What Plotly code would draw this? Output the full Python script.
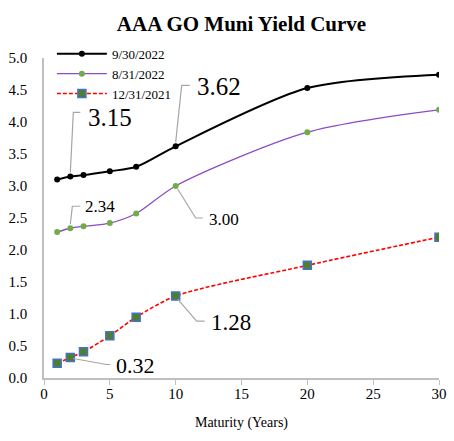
import plotly.graph_objects as go

maturity = [1, 2, 3, 5, 7, 10, 20, 30]
y_sep22 = [3.10, 3.15, 3.17, 3.23, 3.30, 3.62, 4.53, 4.74]
y_aug22 = [2.28, 2.34, 2.37, 2.42, 2.57, 3.00, 3.84, 4.19]
y_dec21 = [0.23, 0.32, 0.41, 0.66, 0.95, 1.28, 1.76, 2.20]
names = ["9/30/2022", "8/31/2022", "12/31/2021"]

FONT = "Liberation Serif"
W, H = 454, 441
L, R, T, B = 44, 15, 58, 63
XR = [0, 30]
YR = [0, 5]
PX_X = (W - L - R) / (XR[1] - XR[0])
PX_Y = (H - T - B) / (YR[1] - YR[0])

fig = go.Figure()
fig.add_trace(go.Scatter(x=maturity, y=y_sep22, name=names[0], mode="lines+markers",
                         line=dict(color="black", width=2, shape="spline", smoothing=0.8),
                         marker=dict(symbol="circle", size=6, color="black")))
fig.add_trace(go.Scatter(x=maturity, y=y_aug22, name=names[1], mode="lines+markers",
                         line=dict(color="#8B4CC4", width=1.3, shape="spline", smoothing=0.8),
                         marker=dict(symbol="circle", size=6, color="#70AD47")))
fig.add_trace(go.Scatter(x=maturity, y=y_dec21, name=names[2], mode="lines+markers",
                         line=dict(color="#FF0000", width=1.6, dash="4px,2px", shape="spline", smoothing=0.8),
                         marker=dict(symbol="square", size=8, color="#4E7F2E",
                                     line=dict(color="#4472C4", width=1.5))))

# callouts: (series, index, font size, path offsets in px (screen, y down), label xshift, yshift)
callouts = [
    (y_sep22, 1, 25, [(0, -4), (3, -64), (10, -64)], 16, 59),
    (y_sep22, 5, 25, [(0, -4), (6, -61), (14, -61)], 19, 60),
    (y_aug22, 1, 17, [(0, -4), (2, -22), (10, -22)], 13, 22),
    (y_aug22, 5, 17, [(2, 3), (20, 32), (27, 32)], 31, -33),
    (y_dec21, 5, 23, [(2, 3), (21, 25), (29, 25)], 33, -26),
    (y_dec21, 1, 22, [(3, 1), (36, 7), (40, 7)], 44, -8),
]
shapes = []
annotations = []
for series, i, fs, pts, xs, ys in callouts:
    x0, y0 = maturity[i], series[i]
    path = ""
    for k, (dx, dy) in enumerate(pts):
        px = x0 + dx / PX_X
        py = y0 - dy / PX_Y
        path += ("M" if k == 0 else " L") + f" {px:.4f},{py:.4f}"
    shapes.append(dict(type="path", path=path, xref="x", yref="y",
                       line=dict(color="#A6A6A6", width=1.2)))
    annotations.append(dict(x=x0, y=y0, xref="x", yref="y", text=f"{series[i]:.2f}",
                            showarrow=False, xanchor="left", yanchor="middle",
                            xshift=xs, yshift=ys,
                            font=dict(family=FONT, size=fs, color="black")))

fig.update_layout(
    width=W, height=H,
    margin=dict(l=L, r=R, t=T, b=B, autoexpand=False),
    paper_bgcolor="white", plot_bgcolor="white",
    title=dict(text="<b>AAA GO Muni Yield Curve</b>", x=0.5, xref="paper",
               y=0.946, yanchor="middle",
               font=dict(family=FONT, size=21, color="black")),
    font=dict(family=FONT, size=14, color="black"),
    legend=dict(x=0.02, y=1.06, xanchor="left", yanchor="top",
                bgcolor="rgba(0,0,0,0)", font=dict(family=FONT, size=13),
                tracegroupgap=0, itemwidth=50),
    showlegend=True,
    shapes=shapes, annotations=annotations,
)
fig.update_xaxes(range=XR, tickvals=[0, 5, 10, 15, 20, 25, 30], showgrid=False, zeroline=False,
                 showline=True, linecolor="#BFBFBF", linewidth=1.5,
                 ticks="outside", ticklen=5, tickcolor="#BFBFBF", automargin=False,
                 ticklabelstandoff=-4,
                 tickfont=dict(family=FONT, size=15),
                 title=dict(text="Maturity (Years)", font=dict(family=FONT, size=14), standoff=16))
fig.update_yaxes(range=YR, tickvals=[0, 0.5, 1, 1.5, 2, 2.5, 3, 3.5, 4, 4.5, 5],
                 tickformat=".1f", showgrid=False, zeroline=False, automargin=False,
                 showline=True, linecolor="#BFBFBF", linewidth=1.5,
                 ticks="", ticklabelstandoff=12,
                 tickfont=dict(family=FONT, size=15))

fig.write_html("out.html", config={"displayModeBar": False},
               post_script="document.body.style.margin='0';")
